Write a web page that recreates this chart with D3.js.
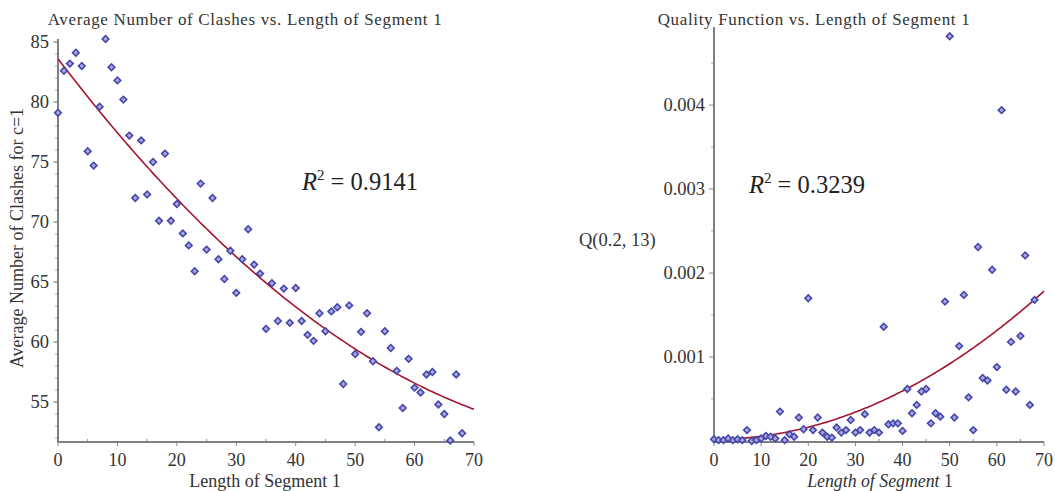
<!DOCTYPE html>
<html>
<head>
<meta charset="utf-8">
<script src="https://cdn.jsdelivr.net/npm/d3@7"></script>
<style>
    body { margin: 0; background: #fff; }
    svg text { font-family: "Liberation Serif", "Times New Roman", serif; fill: #333; }
</style>
</head>
<body>
<div id="chart"></div>
<script>
// segment length (x values, same for both panels)
const segLength = [0,1,2,3,4,5,6,7,8,9,10,11,12,13,14,15,16,17,18,19,20,21,22,23,24,25,26,27,28,29,
    30,31,32,33,34,35,36,37,38,39,40,41,42,43,44,45,46,47,48,49,50,51,52,53,54,55,56,57,58,59,
    60,61,62,63,64,65,66,67,68];

// left panel: average number of clashes for c=1
const clashes = [79.1,82.6,83.2,84.1,83.0,75.9,74.7,79.6,85.25,82.9,
    81.8,80.2,77.2,72.0,76.8,72.3,75.0,70.1,75.7,70.1,
    71.5,69.05,68.05,65.9,73.2,67.7,72.0,66.9,65.25,67.6,
    64.1,66.9,69.4,66.45,65.7,61.1,64.9,61.75,64.45,61.6,
    64.5,61.75,60.6,60.1,62.4,60.9,62.55,62.9,56.5,63.05,
    59.0,60.85,62.4,58.4,52.9,60.9,59.5,57.6,54.5,58.6,
    56.2,55.8,57.3,57.5,54.8,54.0,51.8,57.3,52.4];

// right panel: quality function Q(0.2, 13)
const quality = [0.00002,0.00001,0.00001,0.00003,0.00001,0.00002,0.00001,0.00013,0.0,0.00001,
    0.00003,0.00006,0.00005,0.00003,0.00035,0.00001,0.00008,0.00005,0.00028,0.00014,
    0.0017,0.00013,0.00028,0.0001,0.00005,0.00004,0.00016,0.0001,0.00013,0.00025,
    0.0001,0.00013,0.00032,0.0001,0.00013,0.0001,0.00136,0.0002,0.00021,0.00021,
    0.00012,0.00062,0.00033,0.00043,0.00059,0.00062,0.00021,0.00033,0.00029,0.00166,
    0.00482,0.00028,0.00113,0.00174,0.00052,0.00013,0.00231,0.00075,0.00072,0.00204,
    0.00088,0.00394,0.00061,0.00118,0.00059,0.00125,0.00221,0.00043,0.00168];

// quadratic fits (a + b x + c x^2)
const clashFit = [83.6, -0.6496, 0.00332];
const qualityFit = [0.00002, 0.0, 3.6e-7];

const xTicks = [0,10,20,30,40,50,60,70];
const clashTicks = [55,60,65,70,75,80,85];
const qualityTicks = [0.001,0.002,0.003,0.004];

const svg = d3.select("#chart").append("svg")
    .attr("width", 1055)
    .attr("height", 491);

function drawPanel(cfg) {
    let g = svg.append("g");

    let x = d3.scaleLinear().domain([0, 70]).range([cfg.left, cfg.right]);
    let y = d3.scaleLinear().domain(cfg.yDomain).range([cfg.bottom, cfg.top]);

    // minor ticks
    g.selectAll(".xminor")
        .data(cfg.xMinor)
        .enter().append("line")
        .attr("x1", d => x(d)).attr("x2", d => x(d))
        .attr("y1", cfg.bottom).attr("y2", cfg.bottom - 3)
        .attr("stroke", "#888").attr("stroke-width", 1);
    g.selectAll(".yminor")
        .data(cfg.yMinor)
        .enter().append("line")
        .attr("x1", cfg.left).attr("x2", cfg.left - 3)
        .attr("y1", d => y(d)).attr("y2", d => y(d))
        .attr("stroke", "#aaa").attr("stroke-width", 1);

    // major ticks
    g.selectAll(".xmajor")
        .data(xTicks)
        .enter().append("line")
        .attr("x1", d => x(d)).attr("x2", d => x(d))
        .attr("y1", cfg.bottom).attr("y2", cfg.bottom + 4)
        .attr("stroke", "#888").attr("stroke-width", 1);
    g.selectAll(".ymajor")
        .data(cfg.yTicks)
        .enter().append("line")
        .attr("x1", cfg.left).attr("x2", cfg.left - 5)
        .attr("y1", d => y(d)).attr("y2", d => y(d))
        .attr("stroke", "#888").attr("stroke-width", 1);

    // axis lines
    g.append("line")
        .attr("x1", cfg.left).attr("x2", cfg.left)
        .attr("y1", cfg.bottom).attr("y2", cfg.top)
        .attr("stroke", "#808080").attr("stroke-width", 2);
    g.append("line")
        .attr("x1", cfg.left - 1).attr("x2", cfg.right)
        .attr("y1", cfg.bottom).attr("y2", cfg.bottom)
        .attr("stroke", "#808080").attr("stroke-width", 2);

    // tick labels
    g.selectAll(".xlab")
        .data(xTicks)
        .enter().append("text")
        .attr("x", d => x(d))
        .attr("y", cfg.bottom + 24)
        .attr("text-anchor", "middle")
        .attr("font-size", 18)
        .text(d => d);
    g.selectAll(".ylab")
        .data(cfg.yTicks)
        .enter().append("text")
        .attr("x", cfg.left - 9)
        .attr("y", d => y(d) + 6)
        .attr("text-anchor", "end")
        .attr("font-size", 18.5)
        .text(cfg.yFormat);

    // fitted curve
    let line = d3.line()
        .x(d => x(d))
        .y(d => y(cfg.fit[0] + cfg.fit[1] * d + cfg.fit[2] * d * d));
    g.append("path")
        .datum(d3.range(0, 70.01, 0.5))
        .attr("d", line)
        .attr("fill", "none")
        .attr("stroke", "#a3162f")
        .attr("stroke-width", 1.6);

    // points
    let diamond = d3.symbol().type(d3.symbolSquare).size(22);
    g.selectAll(".pt")
        .data(segLength.map((d, i) => ({x: d, y: cfg.values[i]})))
        .enter().append("path")
        .attr("d", diamond)
        .attr("transform", d => `translate(${x(d.x)},${y(d.y)}) rotate(45)`)
        .attr("fill", "#a9a9e0")
        .attr("stroke", "#4646aa")
        .attr("stroke-width", 1.6);

    // title
    g.append("text")
        .attr("x", cfg.titleX)
        .attr("y", 25)
        .attr("text-anchor", "middle")
        .attr("font-size", 17)
        .attr("letter-spacing", 0.65)
        .text(cfg.title);

    // R squared
    let r2 = g.append("text")
        .attr("x", cfg.r2X)
        .attr("y", cfg.r2Y)
        .attr("font-size", 24.5)
        .style("fill", "#222");
    r2.append("tspan").attr("font-style", "italic").text("R");
    r2.append("tspan").attr("font-size", 15).attr("dy", -10).text("2");
    r2.append("tspan").attr("dy", 10).text(" = " + cfg.r2);

    return {g: g, x: x, y: y};
}

let left = drawPanel({
    left: 58, right: 474, top: 39, bottom: 442,
    yDomain: [51.67, 85.25],
    yTicks: clashTicks,
    yMinor: d3.range(52, 86, 1),
    xMinor: d3.range(5, 70, 10),
    yFormat: d => d,
    values: clashes,
    fit: clashFit,
    title: "Average Number of Clashes vs. Length of Segment 1",
    titleX: 245,
    r2: "0.9141", r2X: 302, r2Y: 190
});

left.g.append("text")
    .attr("x", 265)
    .attr("y", 487)
    .attr("text-anchor", "middle")
    .attr("font-size", 18)
    .text("Length of Segment 1");

left.g.append("text")
    .attr("transform", "translate(23,238) rotate(-90)")
    .attr("text-anchor", "middle")
    .attr("font-size", 18)
    .text("Average Number of Clashes for c=1");

let right = drawPanel({
    left: 714, right: 1044, top: 27, bottom: 442,
    yDomain: [-0.0000119, 0.00493],
    yTicks: qualityTicks,
    yMinor: [0.0005, 0.0015, 0.0025, 0.0035, 0.0045],
    xMinor: d3.range(5, 70, 10),
    yFormat: d3.format(".3f"),
    values: quality,
    fit: qualityFit,
    title: "Quality Function vs. Length of Segment 1",
    titleX: 814,
    r2: "0.3239", r2X: 749, r2Y: 193
});

let xl = right.g.append("text")
    .attr("x", 880)
    .attr("y", 487)
    .attr("text-anchor", "middle")
    .attr("font-size", 17.8);
xl.append("tspan").attr("font-style", "italic").text("Length of Segment");
xl.append("tspan").text(" 1");

right.g.append("text")
    .attr("x", 579)
    .attr("y", 246)
    .attr("font-size", 18.5)
    .text("Q(0.2, 13)");
</script>
</body>
</html>
